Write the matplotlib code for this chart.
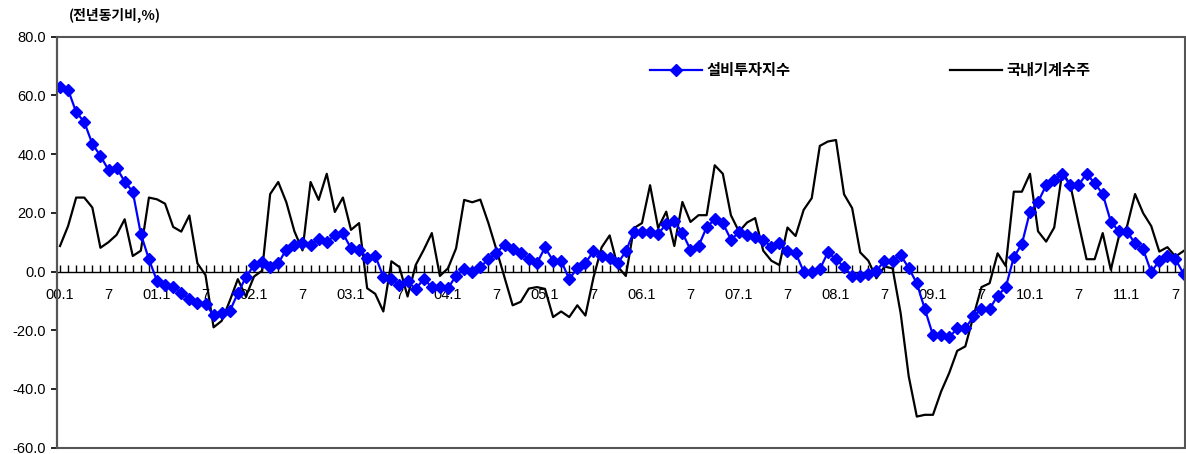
import numpy as np
import matplotlib.pyplot as plt
from matplotlib.patches import Rectangle
from matplotlib.ticker import MultipleLocator, FixedLocator, FixedFormatter

plt.rcParams['font.family'] = ['Liberation Sans', 'Noto Sans CJK KR', 'DejaVu Sans']

# 설비투자지수 (전년동기비, %), 2000.1 ~ 2011.8
invest = [63.0, 61.9, 54.3, 50.9, 43.5, 39.4, 34.6, 35.4, 30.6, 27.2, 12.8, 4.2,
          -3.2, -4.7, -5.3, -7.4, -9.2, -10.8, -11.0, -14.9, -14.0, -13.5, -7.4, -1.9,
          2.2, 3.2, 1.5, 2.8, 7.5, 8.9, 9.6, 9.0, 11.0, 10.1, 12.3, 13.0,
          7.9, 7.5, 4.7, 5.4, -1.8, -2.6, -4.7, -3.3, -6.0, -2.5, -5.3, -5.1,
          -5.7, -1.4, 0.8, 0.0, 1.5, 4.2, 6.4, 9.2, 7.7, 6.4, 4.2, 2.8,
          8.2, 3.7, 3.7, -2.6, 1.2, 2.9, 6.9, 5.4, 4.7, 2.8, 6.9, 13.6,
          13.6, 13.5, 12.8, 16.2, 17.1, 13.2, 7.4, 8.7, 15.1, 17.8, 16.5, 10.9,
          13.3, 12.4, 11.7, 10.8, 8.3, 9.6, 6.9, 6.4, 0.0, 0.0, 0.8, 6.5,
          4.2, 1.5, -1.5, -1.5, -0.7, 0.3, 3.6, 3.7, 5.6, 1.2, -4.0, -12.8,
          -21.7, -21.7, -22.4, -19.4, -19.4, -15.3, -12.7, -12.8, -8.2, -5.4, 4.9, 9.4,
          20.4, 23.7, 29.4, 31.2, 33.3, 29.4, 29.4, 33.3, 30.1, 26.4, 17.0, 13.7,
          13.6, 9.6, 7.6, -0.2, 3.7, 5.3, 4.2, -0.8]

# 국내기계수주 (전년동기비, %)
orders = [8.7, 15.5, 25.2, 25.2, 21.8, 8.1, 10.0, 12.5, 17.8, 5.3, 7.1, 25.2,
          24.6, 23.1, 15.2, 13.6, 19.1, 2.8, -1.2, -19.0, -16.8, -10.0, -2.6, -8.5,
          -1.7, 0.3, 26.4, 30.5, 23.6, 13.7, 7.2, 30.5, 24.4, 33.3, 20.3, 25.2,
          14.2, 16.5, -5.7, -7.6, -13.6, 3.5, 1.5, -8.5, 2.2, 7.4, 13.1, -1.5,
          1.1, 7.9, 24.4, 23.6, 24.5, 16.5, 7.4, -2.0, -11.5, -10.3, -5.8, -5.3,
          -5.9, -15.5, -13.6, -15.5, -11.5, -15.0, -2.0, 8.2, 12.3, 1.7, -1.5, 14.8,
          16.5, 29.4, 14.8, 20.4, 8.7, 23.7, 16.9, 19.2, 19.2, 36.2, 33.3, 19.2,
          13.6, 16.7, 18.2, 7.1, 3.7, 2.2, 15.0, 12.1, 21.0, 25.0, 42.8, 44.3,
          44.8, 26.3, 21.6, 6.5, 3.7, -2.3, 1.7, 1.1, -14.2, -35.7, -49.4, -48.8,
          -48.8, -40.9, -34.6, -27.0, -25.5, -15.3, -5.3, -4.0, 6.2, 1.9, 27.2, 27.2,
          33.3, 13.7, 10.2, 15.0, 34.0, 29.4, 16.5, 4.2, 4.2, 13.1, 0.6, 11.9,
          15.3, 26.4, 19.9, 15.5, 6.8, 8.3, 5.1, 7.0]

years = ['00', '01', '02', '03', '04', '05', '06', '07', '08', '09', '10', '11']
tick_labels = []
for y in years:
    tick_labels += [y + '.1', '7']

months = np.arange(len(invest))

fig = plt.figure(figsize=(11.86, 4.54), dpi=100)
ax = fig.add_axes([0.0478, 0.0139, 0.9515, 0.9053])

ax.plot(months, invest, color='#0000FF', lw=1.6, marker='D', ms=6,
        label='설비투자지수', zorder=3)
ax.plot(months, orders, color='black', lw=1.6, label='국내기계수주', zorder=2)

ax.set_xlim(-0.41, 139.2)
ax.set_ylim(-60, 80)

# x axis drawn on the zero line, full frame around the plot
for s in ['top', 'right']:
    ax.spines[s].set_visible(False)
ax.spines['bottom'].set_position(('data', 0))
ax.spines['bottom'].set_linewidth(1.0)
ax.spines['left'].set_linewidth(1.5)
ax.add_patch(Rectangle((0, 0), 1, 1, transform=ax.transAxes, fill=False,
                       ec='#555555', lw=1.5, clip_on=False, zorder=5))

ax.xaxis.set_major_locator(FixedLocator(np.arange(0, len(invest), 6)))
ax.xaxis.set_major_formatter(FixedFormatter(tick_labels))
ax.xaxis.set_minor_locator(MultipleLocator(1))
ax.tick_params(axis='x', which='both', direction='in', length=5, width=1,
               pad=12, labelsize=10.5)

ax.set_yticks(np.arange(-60, 81, 20))
ax.set_yticklabels([f'{v:.1f}' for v in np.arange(-60, 81, 20)])
ax.tick_params(axis='y', direction='out', length=4, width=1.2, labelsize=10.5)

ax.legend(loc='center left', bbox_to_anchor=(0.526, 0.919), ncol=2,
          frameon=False, handlelength=3.4, handletextpad=0.3,
          columnspacing=10.4, borderaxespad=0, borderpad=0,
          prop={'family': ['Noto Sans CJK KR'], 'size': 11, 'weight': 'bold'})

fig.text(0.058, 0.965, '(전년동기비,%)', fontsize=10, fontweight='bold',
         family=['Noto Sans CJK KR'], va='center', ha='left')

fig.savefig('out.png', dpi=100)
